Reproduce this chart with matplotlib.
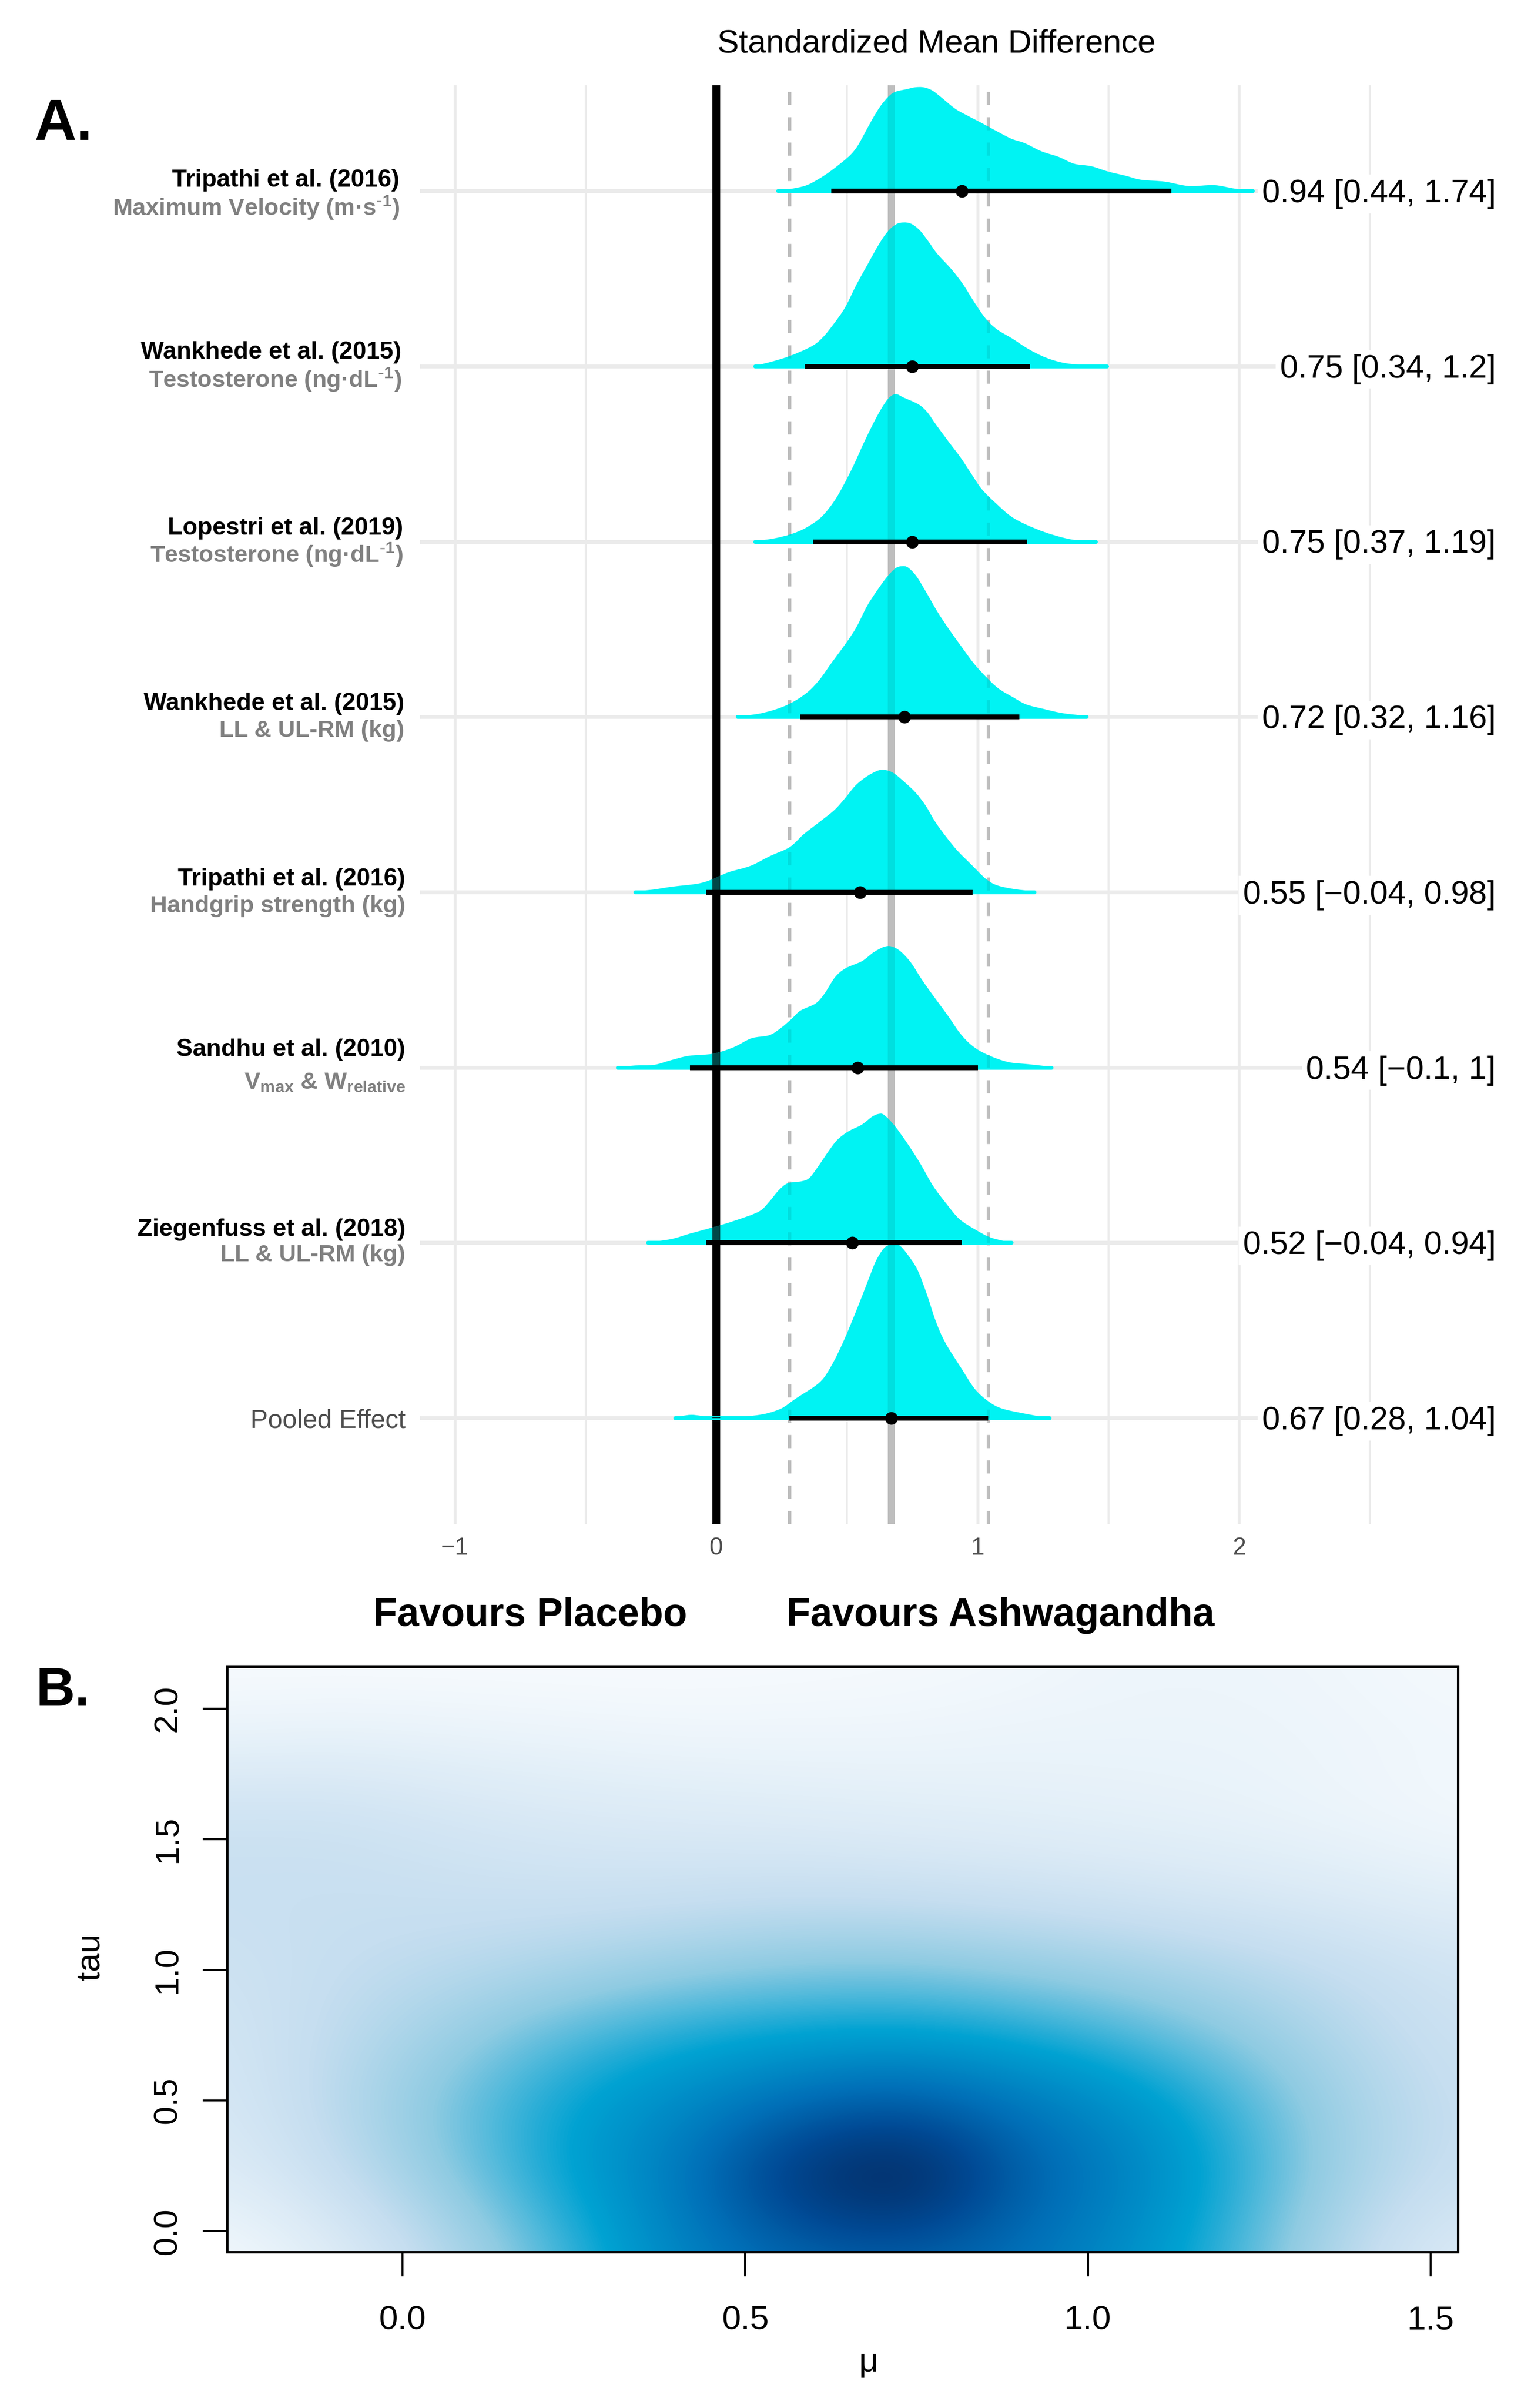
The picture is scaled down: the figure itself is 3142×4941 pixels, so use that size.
import numpy as np
import matplotlib
matplotlib.use("Agg")
import matplotlib.pyplot as plt
from matplotlib.colors import LinearSegmentedColormap
from matplotlib.patches import PathPatch
from matplotlib.path import Path

plt.rcParams["font.family"] = ["Liberation Sans", "DejaVu Sans"]
plt.rcParams["mathtext.default"] = "regular"

W, H = 3142, 4941
DPI = 100

studies = ["Tripathi et al. (2016)", "Wankhede et al. (2015)", "Lopestri et al. (2019)",
           "Wankhede et al. (2015)", "Tripathi et al. (2016)", "Sandhu et al. (2010)",
           "Ziegenfuss et al. (2018)"]
outcomes = [r"Maximum Velocity (m·s$^{\text{-}1}$)", r"Testosterone (ng·dL$^{\text{-}1}$)",
            r"Testosterone (ng·dL$^{\text{-}1}$)", "LL & UL-RM (kg)", "Handgrip strength (kg)",
            r"V$_{max}$ & W$_{relative}$", "LL & UL-RM (kg)"]
ci_labels = ["0.94 [0.44, 1.74]", "0.75 [0.34, 1.2]", "0.75 [0.37, 1.19]", "0.72 [0.32, 1.16]",
             "0.55 [\u22120.04, 0.98]", "0.54 [\u22120.1, 1]", "0.52 [\u22120.04, 0.94]", "0.67 [0.28, 1.04]"]
means = [0.94, 0.75, 0.75, 0.72, 0.55, 0.54, 0.52, 0.67]
lower = [0.44, 0.34, 0.37, 0.32, -0.04, -0.10, -0.04, 0.28]
upper = [1.74, 1.20, 1.19, 1.16, 0.98, 1.00, 0.94, 1.04]
pooled = 0.67
pooled_lo = 0.28
pooled_hi = 1.04

# density outlines (smd, height in row units)
x1 = [.236, .282, .341, .387, .439, .505, .537, .564, .596, .629, .662, .688, .727, .760, .793, .825, .858, .911, .950,
      1.002, 1.054, 1.127, 1.179, 1.244, 1.310, 1.369, 1.434, 1.500, 1.565, 1.624, 1.716, 1.807, 1.905, 1.984, 2.053]
d1 = [.006, .012, .031, .065, .116, .195, .25, .32, .408, .487, .544, .568, .581, .592, .592, .575, .538, .473, .439,
      .399, .357, .30, .274, .227, .195, .156, .142, .111, .088, .065, .054, .029, .034, .014, .006]
x2 = [.150, .202, .279, .364, .407, .450, .493, .536, .579, .621, .655, .688, .716, .745, .778, .812, .845, .902, .945,
      .988, 1.031, 1.074, 1.131, 1.193, 1.259, 1.326, 1.393, 1.495]
d2 = [.005, .023, .058, .114, .165, .244, .337, .466, .582, .694, .768, .811, .821, .814, .777, .712, .643, .550, .466,
      .364, .272, .211, .160, .100, .051, .021, .010, .005]
x3 = [.150, .222, .288, .345, .402, .450, .488, .526, .564, .602, .631, .659, .686, .717, .774, .807, .840, .888, .935,
      .978, 1.016, 1.069, 1.126, 1.183, 1.259, 1.335, 1.393, 1.452]
d3 = [.004, .019, .044, .081, .141, .229, .326, .438, .563, .679, .758, .818, .842, .822, .783, .739, .669, .572, .479,
      .382, .299, .220, .146, .099, .053, .020, .006, .004]
x4 = [.082, .157, .224, .285, .347, .395, .442, .499, .537, .576, .614, .652, .685, .709, .733, .766, .804, .847, .890,
      .937, .985, 1.033, 1.080, 1.137, 1.185, 1.252, 1.328, 1.416]
d4 = [.005, .017, .042, .079, .139, .213, .311, .427, .515, .631, .719, .797, .848, .860, .853, .802, .709, .598, .501,
      .403, .306, .227, .162, .111, .072, .046, .021, .007]
x5 = [-.310, -.244, -.169, -.072, -.019, .046, .131, .206, .281, .335, .399, .453, .495, .533, .576, .618, .645, .678,
      .720, .763, .801, .838, .881, .924, .977, 1.031, 1.074, 1.138, 1.218]
d5 = [.006, .015, .032, .049, .072, .114, .151, .207, .258, .332, .406, .471, .541, .610, .661, .694, .698, .680,
      .629, .568, .494, .401, .313, .235, .156, .077, .040, .019, .005]
x6 = [-.377, -.311, -.237, -.174, -.106, -.014, .066, .134, .203, .248, .288, .322, .380, .414, .454, .494, .557, .602,
      .642, .671, .705, .745, .785, .831, .888, .933, .979, 1.036, 1.116, 1.196, 1.282]
d6 = [.003, .012, .016, .042, .067, .079, .116, .167, .185, .227, .278, .325, .366, .422, .515, .566, .607, .658,
      .689, .691, .663, .598, .505, .408, .292, .195, .125, .074, .032, .019, .005]
x7 = [-.261, -.172, -.101, -.010, .071, .162, .202, .238, .273, .324, .354, .384, .435, .465, .506, .556, .596, .622,
      .642, .682, .733, .779, .829, .880, .930, .991, 1.051, 1.130]
d7 = [.004, .022, .053, .090, .127, .178, .234, .299, .340, .351, .368, .424, .535, .591, .637, .674, .720, .736,
      .730, .669, .563, .456, .326, .224, .136, .076, .030, .002]
x8 = [-.157, -.096, -.004, .150, .242, .303, .395, .441, .487, .539, .580, .610, .641, .666, .697, .728, .769, .805,
      .840, .876, .938, .989, 1.040, 1.091, 1.173, 1.275]
d8 = [.003, .019, .006, .016, .051, .111, .204, .301, .440, .626, .783, .895, .969, .989, .989, .941, .848, .709,
      .552, .431, .283, .167, .097, .056, .028, .0]
ridge_x = [x1, x2, x3, x4, x5, x6, x7, x8]
ridge_d = [d1, d2, d3, d4, d5, d6, d7, d8]

# panel B, density level
mu = [-.25, -.087, .075, .238, .40, .563, .726, .889, 1.05, 1.214, 1.377, 1.54]
tau = [-.08, .20, .48, .76, 1.04, 1.32, 1.60, 1.88, 2.16]
levels = [
    [.01, .10, .24, .42, .60, .71, .73, .68, .57, .42, .22, .10],
    [.10, .20, .34, .50, .64, .92, 1.10, .76, .63, .46, .28, .18],
    [.13, .24, .37, .50, .59, .70, .77, .67, .57, .43, .28, .19],
    [.15, .22, .30, .40, .46, .49, .50, .47, .41, .33, .24, .17],
    [.17, .20, .22, .25, .29, .32, .33, .30, .27, .23, .19, .15],
    [.19, .19, .18, .17, .17, .18, .17, .16, .14, .12, .10, .07],
    [.17, .17, .14, .12, .11, .10, .09, .08, .07, .06, .04, .02],
    [.06, .07, .06, .05, .04, .04, .04, .05, .05, .05, .04, .03],
    [0, 0, 0, 0, 0, .005, .01, .02, .04, .04, .03, .01],
]
blues = ["#F7FBFE", "#C6DEF0", "#8FCBE2", "#00A2D2", "#0070B8", "#004A95", "#06295F"]
blue_pos = [0, .2, .33, .5, .68, .82, 1]


def ridge_path(xs, ys, base):
    pts = np.column_stack([xs, np.array(ys) + base])
    verts = [(xs[0], base), tuple(pts[0])]
    codes = [Path.MOVETO, Path.LINETO]
    n = len(pts)
    for i in range(n - 1):
        p0 = pts[max(i - 1, 0)]
        p1 = pts[i]
        p2 = pts[i + 1]
        p3 = pts[min(i + 2, n - 1)]
        verts += [tuple(p1 + (p2 - p0) / 6), tuple(p2 - (p3 - p1) / 6), tuple(p2)]
        codes += [Path.CURVE4] * 3
    verts += [(xs[-1], base), (xs[0], base)]
    codes += [Path.LINETO, Path.CLOSEPOLY]
    return Path(verts, codes)


def px(v):
    # line widths and marker sizes are thought of in image pixels
    return v * 72 / DPI


fig = plt.figure(figsize=(W / DPI, H / DPI), dpi=DPI)


def put(x, y, s, **kw):
    return fig.text(x / W, 1 - y / H, s, **kw)


# panel A covers the whole sheet, row 0 = pooled effect
ax = fig.add_axes([0, 0, 1, 1])
unit = 536.5
x_zero = 1470
row_h = 359.7
ax.set_xlim(-x_zero / unit, (W - x_zero) / unit)
ax.set_ylim((2910 - H) / row_h, 2910 / row_h)
ax.axis("off")

y_top = (2910 - 175) / row_h
y_bot = (2910 - 3127) / row_h
ci_x = (3070 - x_zero) / unit
n_rows = len(means)
bases = [n_rows - 1 - i for i in range(n_rows)]

for v in [-1, 0, 1, 2]:
    ax.plot([v, v], [y_bot, y_top], color="#EBEBEB", lw=px(6), solid_capstyle="butt", zorder=1)
for v in [-.5, .5, 1.5, 2.5]:
    ax.plot([v, v], [y_bot, y_top], color="#EBEBEB", lw=px(4), solid_capstyle="butt", zorder=1)
for b in bases:
    ax.plot([-1.134, ci_x], [b, b], color="#EBEBEB", lw=px(8), solid_capstyle="butt", zorder=1)

ax.plot([pooled, pooled], [y_bot, y_top], color="#BEBEBE", lw=px(14), solid_capstyle="butt", zorder=2)
ax.plot([pooled_lo, pooled_lo], [y_bot, y_top], color="#BEBEBE", lw=px(7), ls=(0, (27 / 7, 25 / 7)), zorder=2)
ax.plot([pooled_hi, pooled_hi], [y_bot, y_top], color="#BEBEBE", lw=px(7), ls=(0, (27 / 7, 25 / 7)), zorder=2)
ax.plot([0, 0], [y_bot, y_top], color="black", lw=px(16), solid_capstyle="butt", zorder=3)

for i in range(n_rows - 1, -1, -1):
    b = bases[i]
    patch = PathPatch(ridge_path(ridge_x[i], ridge_d[i], b), facecolor="#00F3F3", edgecolor="none", zorder=4)
    ax.add_patch(patch)
    ax.plot([ridge_x[i][0], ridge_x[i][-1]], [b, b], color="#00F3F3", lw=px(8), solid_capstyle="round", zorder=4)
    # the reference lets the lines show through the fill
    for v, w, a, ls in [(0, 16, .7, "-"), (pooled, 14, .08, "-"),
                        (pooled_lo, 7, .08, (0, (27 / 7, 25 / 7))), (pooled_hi, 7, .08, (0, (27 / 7, 25 / 7)))]:
        ln, = ax.plot([v, v], [y_bot, y_top], color="black", alpha=a, lw=px(w), ls=ls, zorder=4.5)
        ln.set_clip_path(patch)

for i in range(n_rows):
    b = bases[i]
    ax.plot([lower[i], upper[i]], [b, b], color="black", lw=px(10), solid_capstyle="butt", zorder=6)
    ax.plot([means[i]], [b], "o", color="black", ms=px(26), mew=0, zorder=7)
    ax.text(ci_x, b - 6 / row_h, ci_labels[i], ha="right", va="center", fontsize=47.8, color="black", zorder=8,
            bbox=dict(facecolor="white", edgecolor="none", pad=6))

name_pos = [(820, 370, 426), (824, 723, 779), (827, 1084, 1138), (830, 1444, 1499),
            (832, 1804, 1860), (832, 2154, 2222), (832, 2523, 2576)]
for i in range(len(studies)):
    xr, y1, y2 = name_pos[i]
    put(xr, y1, studies[i], ha="right", va="center", fontsize=36, fontweight="bold", color="black")
    put(xr, y2, outcomes[i], ha="right", va="center", fontsize=35, fontweight="bold", color="#808080")
put(832, 2915, "Pooled Effect", ha="right", va="center", fontsize=38.6, color="#4D4D4D")

for v, s in zip([-1, 0, 1, 2], ["\u22121", "0", "1", "2"]):
    ax.text(v, (2910 - 3177) / row_h, s, ha="center", va="center", fontsize=36, color="#4D4D4D")

put(1922, 91, "Standardized Mean Difference", ha="center", va="center", fontsize=48, color="black")
put(70, 287, "A.", ha="left", va="baseline", fontsize=86, fontweight="bold")
put(74, 3500, "B.", ha="left", va="baseline", fontsize=80, fontweight="bold")
put(1088, 3315, "Favours Placebo", ha="center", va="center", fontsize=58, fontweight="bold")
put(2053, 3315, "Favours Ashwagandha", ha="center", va="center", fontsize=58, fontweight="bold")

# panel B
l, r, t, bt = 466, 2992, 3420, 4621
axb = fig.add_axes([l / W, 1 - bt / H, (r - l) / W, (bt - t) / H])
cmap = LinearSegmentedColormap.from_list("blues_r", list(zip(blue_pos, blues)))
dm = mu[1] - mu[0]
dt = tau[1] - tau[0]
axb.imshow(np.array(levels), origin="lower", cmap=cmap, vmin=0, vmax=1, aspect="auto", interpolation="bicubic",
           extent=[mu[0] - dm / 2, mu[-1] + dm / 2, tau[0] - dt / 2, tau[-1] + dt / 2])
axb.set_xlim(-.256, 1.540)
axb.set_ylim(-.08, 2.16)
axb.set_xticks([0, .5, 1, 1.5], ["0.0", "0.5", "1.0", "1.5"])
axb.set_yticks([0, .5, 1, 1.5, 2], ["0.0", "0.5", "1.0", "1.5", "2.0"])
axb.tick_params(axis="x", length=px(50), width=px(4), labelsize=50, pad=px(58))
axb.tick_params(axis="y", length=px(50), width=px(4), labelsize=50, pad=px(40))
plt.setp(axb.get_yticklabels(), rotation=90, va="center")
for s in axb.spines.values():
    s.set_linewidth(px(5))
put(186, 4016, "tau", rotation=90, ha="center", va="center", fontsize=50)
put(1782, 4848, "\u03bc", ha="center", va="center", fontsize=50)

fig.savefig("out.png", dpi=DPI, facecolor="white")
